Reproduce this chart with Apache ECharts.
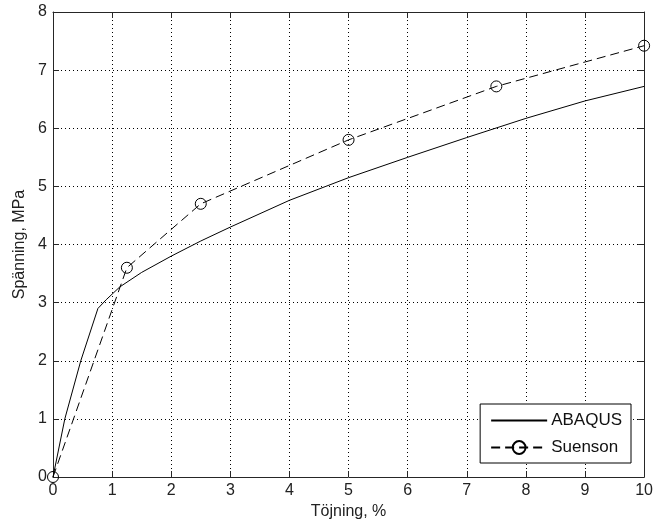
<!DOCTYPE html>
<html>
<head>
<meta charset="utf-8">
<script src="https://cdn.jsdelivr.net/npm/echarts@6/dist/echarts.min.js"></script>
<style>html,body{margin:0;padding:0;background:#fff}#c{width:656px;height:532px}</style>
</head>
<body>
<div id="c"></div>
<script>
var abaqusX = [0, 0.2, 0.47, 0.76, 0.9, 1.13, 1.5, 2, 2.5, 3, 4, 5, 6, 7, 8, 9, 10];
var abaqusY = [0, 1.0, 2.0, 2.9, 3.05, 3.27, 3.52, 3.8, 4.06, 4.3, 4.76, 5.15, 5.5, 5.84, 6.17, 6.47, 6.72];
var suensonX = [0, 1.25, 2.5, 5, 7.5, 10];
var suensonY = [0, 3.6, 4.7, 5.8, 6.72, 7.42];
var xName = 'Töjning, %';
var yName = 'Spänning, MPa';
var seriesNames = ['ABAQUS', 'Suenson'];

function pairs(xs, ys) { return xs.map(function (x, i) { return [x, ys[i]]; }); }

var font = 'Liberation Sans';
var axisCol = '#262626';
var txtCol = '#222';
var chart = echarts.init(document.getElementById('c'));
var grid = { left: 53, right: 11, top: 12, bottom: 55 };
var splitDot = { show: true, lineStyle: { color: '#000', type: [1, 3], width: 1 } };
chart.setOption({
  animation: false,
  backgroundColor: '#fff',
  grid: grid,
  xAxis: [{
    type: 'value', min: 0, max: 10, interval: 1,
    name: xName, nameLocation: 'middle', nameGap: 27,
    nameTextStyle: { fontFamily: font, fontSize: 16, color: txtCol },
    axisLine: { show: true, lineStyle: { color: axisCol, width: 1 } },
    axisTick: { show: true, inside: true, length: 6, lineStyle: { color: axisCol } },
    axisLabel: { fontFamily: font, fontSize: 16, color: txtCol, margin: 6 },
    splitLine: splitDot
  }, {
    type: 'value', min: 0, max: 10, interval: 1, position: 'top',
    axisLine: { show: true, onZero: false, lineStyle: { color: axisCol, width: 1 } },
    axisTick: { show: true, inside: true, length: 6, lineStyle: { color: axisCol } },
    axisLabel: { show: false }, splitLine: { show: false }
  }],
  yAxis: [{
    type: 'value', min: 0, max: 8, interval: 1,
    name: yName, nameLocation: 'middle', nameGap: 25,
    nameTextStyle: { fontFamily: font, fontSize: 16, color: txtCol },
    axisLine: { show: true, lineStyle: { color: axisCol, width: 1 } },
    axisTick: { show: true, inside: true, length: 6, lineStyle: { color: axisCol } },
    axisLabel: { fontFamily: font, fontSize: 16, color: txtCol, margin: 6 },
    splitLine: splitDot
  }, {
    type: 'value', min: 0, max: 8, interval: 1, position: 'right',
    axisLine: { show: true, onZero: false, lineStyle: { color: axisCol, width: 1 } },
    axisTick: { show: true, inside: true, length: 6, lineStyle: { color: axisCol } },
    axisLabel: { show: false }, splitLine: { show: false }
  }],
  legend: {
    orient: 'vertical', right: 25, top: 404,
    data: [{ name: seriesNames[0], itemStyle: { opacity: 0 } }, { name: seriesNames[1] }],
    backgroundColor: '#fff', borderColor: '#000', borderWidth: 1,
    padding: [8, 9, 7, 10], itemGap: 10, itemWidth: 56, itemHeight: 16,
    textStyle: { fontFamily: font, fontSize: 17, color: '#111', padding: [0, 0, 0, -1] }
  },
  series: [{
    name: seriesNames[0], type: 'line', data: pairs(abaqusX, abaqusY),
    symbol: 'none', lineStyle: { color: '#000', width: 1 }, itemStyle: { color: '#000' }, z: 3
  }, {
    name: seriesNames[1], type: 'line', data: pairs(suensonX, suensonY),
    symbol: 'circle', symbolSize: 11, showAllSymbol: true,
    lineStyle: { color: '#000', width: 1, type: [9, 5] },
    itemStyle: { color: 'transparent', borderColor: '#000', borderWidth: 1 }, z: 4
  }]
});
</script>
</body>
</html>
